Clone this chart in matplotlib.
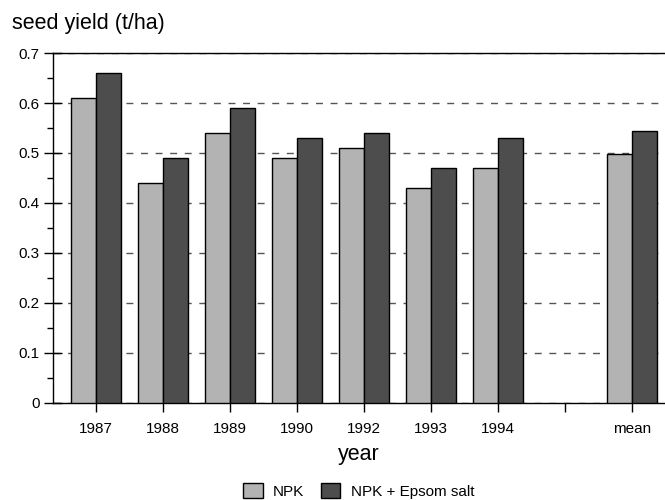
import numpy as np
import matplotlib
matplotlib.use("Agg")
import matplotlib.pyplot as plt
from matplotlib.ticker import MultipleLocator

plt.rcParams['font.family'] = ['Liberation Sans', 'DejaVu Sans']

# data
years = ['1987', '1988', '1989', '1990', '1992', '1993', '1994', '', 'mean']
npk = [0.61, 0.44, 0.54, 0.49, 0.51, 0.43, 0.47, np.nan, 0.499]
npk_epsom = [0.66, 0.49, 0.59, 0.53, 0.54, 0.47, 0.53, np.nan, 0.544]
y_ticks = [0, 0.1, 0.2, 0.3, 0.4, 0.5, 0.6, 0.7]
y_labels = ['0', '0.1', '0.2', '0.3', '0.4', '0.5', '0.6', '0.7']

fig = plt.figure(figsize=(6.65, 5.0), dpi=100)
ax = fig.add_axes([53 / 665, 97 / 500, 1 - 53 / 665, 350 / 500])

x = np.arange(len(years))
w = 0.375
ax.bar(x - w / 2, npk, w, color='#b3b3b3', edgecolor='black', linewidth=1.0,
       label='NPK', zorder=3)
ax.bar(x + w / 2, npk_epsom, w, color='#4d4d4d', edgecolor='black', linewidth=1.0,
       label='NPK + Epsom salt', zorder=3)

ax.set_xlim(-0.642, 8.49)
ax.set_ylim(0, 0.7)
ax.set_xticks(x, years)
ax.set_yticks(y_ticks, y_labels)
ax.yaxis.set_minor_locator(MultipleLocator(0.05))

ax.grid(axis='y', which='major', linestyle=(0, (5, 5.5)), color='#555555',
        linewidth=1.0, zorder=1)
ax.set_axisbelow(True)

for side in ['left', 'bottom', 'top']:
    ax.spines[side].set_color('black')
    ax.spines[side].set_linewidth(1.0)
ax.spines['right'].set_visible(False)

ax.tick_params(axis='y', which='major', direction='inout', length=13, width=1,
               labelsize=11, pad=3)
ax.tick_params(axis='y', which='minor', direction='out', length=4, width=1)
ax.tick_params(axis='x', which='major', direction='out', length=6.5, width=1,
               labelsize=11, pad=7)

ax.set_xlabel('year', fontsize=15.5, labelpad=6)
fig.text(12 / 665, 1 - 23 / 500, 'seed yield (t/ha)', fontsize=15.5,
         ha='left', va='center')

fig.legend(loc='upper center', bbox_to_anchor=(359 / 665, 17 / 500), ncol=2,
           frameon=False, fontsize=11, handlelength=1.25, handleheight=1.18,
           handletextpad=0.7, columnspacing=1.1, borderpad=0, borderaxespad=0)

fig.savefig('out.png', dpi=100)
